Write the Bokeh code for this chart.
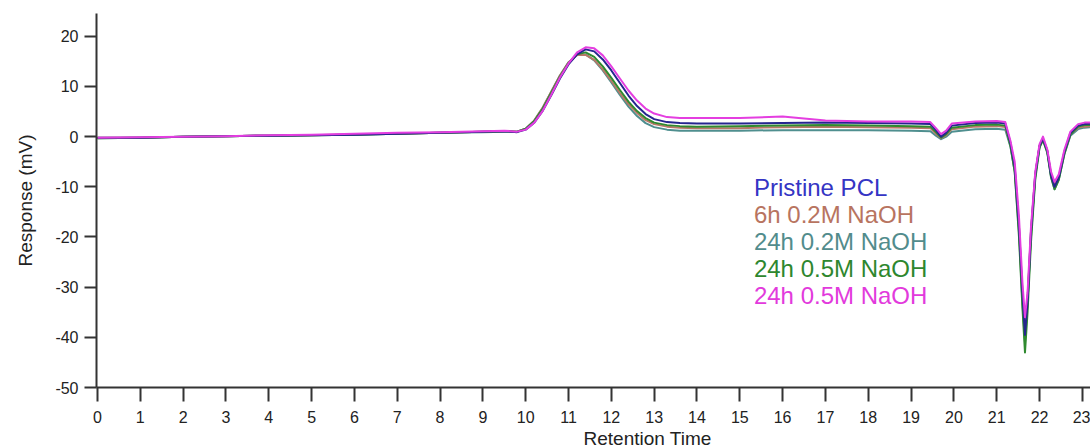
from bokeh.plotting import figure
from bokeh.models import Range1d, FixedTicker, Label, Title
from bokeh.embed import file_html
from bokeh.resources import INLINE

# Retention time grid (min)
retention_time = [0, 1, 2, 3, 4, 5, 6, 7, 8, 9, 9.5,
                  9.8, 10.0, 10.2, 10.4, 10.6, 10.8, 11.0, 11.2, 11.4, 11.6,
                  11.8, 12.0, 12.2, 12.4, 12.6, 12.8, 13.0, 13.3, 13.6, 14,
                  15, 16, 17, 18, 19,
                  19.45, 19.58, 19.7, 19.82, 19.95,
                  20.5, 21.0, 21.2,
                  21.32, 21.42, 21.52, 21.6, 21.66, 21.72, 21.8, 21.9, 22.0, 22.08,
                  22.18, 22.27, 22.35, 22.45, 22.58, 22.72, 22.9, 23.05, 23.25]

pristine_pcl = [-0.2, -0.2, 0.0, 0.1, 0.2, 0.3, 0.4, 0.6, 0.8, 1.0, 1.1,
                0.9, 1.4, 2.8, 5.2, 8.3, 11.6, 14.4, 16.4, 17.4, 17.0,
                15.4, 13.2, 10.7, 8.2, 6.1, 4.5, 3.5, 2.9, 2.7, 2.6,
                2.6, 2.7, 2.8, 2.7, 2.6,
                2.5, 1.3, 0.0, 0.8, 2.2,
                2.7, 2.8, 2.6,
                -1.2, -6, -18, -31, -39.5, -33, -19, -7.5, -1.8, -0.4,
                -2.8, -7.8, -10, -8.2, -3.0, 0.7, 2.2, 2.5, 2.6]

h6_02m = [-0.2, -0.2, 0.0, 0.1, 0.2, 0.3, 0.5, 0.6, 0.8, 1.0, 1.1,
          1.0, 1.6, 3.2, 5.8, 9.0, 12.2, 14.8, 16.3, 16.3, 15.3,
          13.4, 11.1, 8.7, 6.5, 4.7, 3.3, 2.5, 2.0, 1.8, 1.7,
          1.7, 1.9, 2.0, 1.9, 1.8,
          1.7, 0.6, -0.3, 0.3, 1.5,
          2.0, 2.1, 1.9,
          -1.5, -6.5, -18, -32, -40, -32, -19, -7.5, -1.8, -0.5,
          -2.8, -7.5, -9.5, -8.0, -3.2, 0.5, 1.8, 2.0, 2.1]

h24_02m = [-0.3, -0.2, 0.0, 0.1, 0.2, 0.3, 0.4, 0.6, 0.8, 0.9, 1.0,
           1.0, 1.6, 3.2, 5.8, 9.0, 12.2, 14.8, 16.3, 16.4, 15.2,
           13.2, 10.8, 8.3, 6.0, 4.1, 2.7, 1.9, 1.4, 1.2, 1.2,
           1.2, 1.3, 1.3, 1.3, 1.2,
           1.1, 0.2, -0.5, 0.0, 1.0,
           1.5, 1.6, 1.4,
           -2.0, -7, -19, -33, -41, -33, -20, -8, -2.0, -0.6,
           -3.0, -8, -10.5, -8.5, -3.5, 0.2, 1.5, 1.8, 1.9]

h24_05m_a = [-0.3, -0.2, 0.0, 0.1, 0.2, 0.3, 0.4, 0.6, 0.8, 1.0, 1.1,
             1.0, 1.6, 3.1, 5.6, 8.8, 12.0, 14.7, 16.4, 16.8, 15.9,
             14.0, 11.7, 9.3, 7.0, 5.1, 3.7, 2.8, 2.3, 2.1, 2.0,
             2.1, 2.2, 2.3, 2.2, 2.1,
             2.0, 0.9, -0.2, 0.5, 1.8,
             2.3, 2.4, 2.2,
             -1.8, -7, -20, -34, -43, -35, -21, -8.5, -2.2, -0.7,
             -3.2, -8.2, -10.5, -8.6, -3.4, 0.4, 2.0, 2.3, 2.3]

h24_05m_b = [-0.2, -0.1, 0.0, 0.1, 0.3, 0.4, 0.6, 0.8, 0.9, 1.1, 1.2,
             1.0, 1.4, 2.8, 5.2, 8.4, 11.8, 14.6, 16.8, 17.8, 17.6,
             16.2, 14.0, 11.6, 9.2, 7.2, 5.6, 4.6, 3.9, 3.7, 3.7,
             3.7, 4.0, 3.2, 3.0, 3.0,
             2.9, 1.7, 0.5, 1.2, 2.6,
             3.0, 3.1, 2.9,
             -0.8, -5, -16, -29, -36, -31, -18, -7, -1.5, 0.0,
             -2.5, -7, -9, -7.5, -2.6, 1.0, 2.5, 2.8, 2.8]

series_names = ["Pristine PCL", "6h 0.2M NaOH", "24h 0.2M NaOH", "24h 0.5M NaOH", "24h 0.5M NaOH"]
series_values = [pristine_pcl, h6_02m, h24_02m, h24_05m_a, h24_05m_b]
line_colors = ["#25258f", "#b87868", "#4f8f8f", "#2f8a2f", "#e43ee0"]
label_colors = ["#3535c4", "#b87460", "#528c8c", "#2e872e", "#e23adc"]

x_ticks = list(range(0, 24))
y_ticks = [-50, -40, -30, -20, -10, 0, 10, 20]
y_tick_labels = ["-50", "-40", "-30", "-20", "-10", "0", "10", "20"]

FONT = "Liberation Sans"

p = figure(width=1090, height=448, output_backend="svg", toolbar_location=None,
           x_range=Range1d(-0.023, 23.19), y_range=Range1d(-50, 24.55),
           min_border_left=96, min_border_right=0, min_border_top=13, min_border_bottom=60)
p.outline_line_color = None
p.grid.visible = False
p.background_fill_color = "white"

for ax in (p.xaxis[0], p.yaxis[0]):
    ax.axis_line_color = "#333333"
    ax.axis_line_width = 2
    ax.major_tick_line_color = "#333333"
    ax.major_tick_line_width = 2
    ax.major_tick_in = 0
    ax.minor_tick_line_color = None
    ax.major_label_text_font = FONT
    ax.major_label_text_font_size = "16px"
    ax.major_label_text_color = "#222222"

p.xaxis.major_tick_out = 14
p.yaxis.major_tick_out = 12
p.xaxis.ticker = FixedTicker(ticks=x_ticks)
p.yaxis.ticker = FixedTicker(ticks=y_ticks)
p.yaxis.major_label_overrides = dict(zip(y_ticks, y_tick_labels))
p.xaxis.major_label_standoff = 9
p.yaxis.major_label_standoff = 6

p.yaxis.axis_label = "Response (mV)"
p.yaxis.axis_label_text_font = FONT
p.yaxis.axis_label_text_font_style = "normal"
p.yaxis.axis_label_text_font_size = "19px"
p.yaxis.axis_label_text_color = "#222222"
p.yaxis.axis_label_standoff = 16

# draw order: teal, brown, green, blue, magenta on top
order = [2, 1, 3, 0, 4]
for i in order:
    p.line(retention_time, series_values[i], line_color=line_colors[i], line_width=2,
           line_join="round")

# x axis title, placed as in the source (right of centre)
p.add_layout(Title(text="Retention Time", align="left", offset=487, standoff=0,
                   text_font=FONT, text_font_size="19px", text_font_style="normal",
                   text_color="#222222"), "below")

# in-plot legend text
for i, name in enumerate(series_names):
    p.add_layout(Label(x=15.33, y=-10.1 - i * 5.37, text=name, text_font=FONT,
                       text_font_size="24px", text_color=label_colors[i],
                       text_align="left", text_baseline="middle"))

open("out.html", "w").write(file_html(p, INLINE))
